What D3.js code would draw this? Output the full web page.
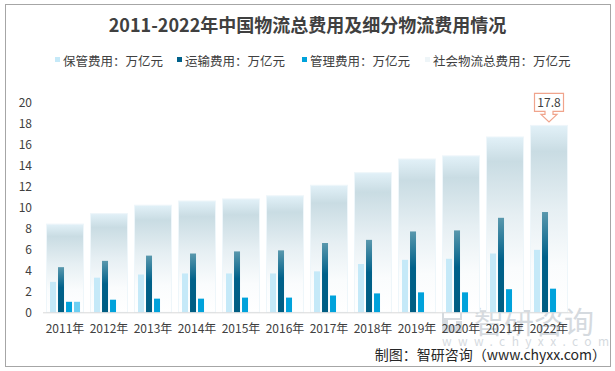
<!DOCTYPE html>
<html>
<head>
<meta charset="utf-8">
<script src="https://cdn.jsdelivr.net/npm/d3@7"></script>
<style>
  body { margin: 0; background: #fff; }
  svg { display: block; font-family: "Microsoft YaHei", "Noto Sans CJK SC", "Noto Sans", sans-serif; }
</style>
</head>
<body>
<svg id="chart"></svg>
<script>
// data (万亿元)
var years     = ['2011年','2012年','2013年','2014年','2015年','2016年','2017年','2018年','2019年','2020年','2021年','2022年'];
var total     = [8.4, 9.4, 10.2, 10.6, 10.8, 11.1, 12.1, 13.3, 14.6, 14.9, 16.7, 17.8];
var storage   = [2.9, 3.3, 3.6, 3.7, 3.7, 3.7, 3.9, 4.6, 5.0, 5.1, 5.6, 5.95];
var transport = [4.3, 4.9, 5.4, 5.6, 5.8, 5.9, 6.6, 6.9, 7.7, 7.8, 9.0, 9.55];
var manage    = [1.0, 1.2, 1.3, 1.3, 1.4, 1.4, 1.6, 1.8, 1.9, 1.9, 2.2, 2.25];
var stray     = [1.0, null, null, null, null, null, null, null, null, null, null, null]; // stray bar in the 2011 group
var yTicks    = [0, 2, 4, 6, 8, 10, 12, 14, 16, 18, 20];
var legendNames = ['保管费用：万亿元','运输费用：万亿元','管理费用：万亿元','社会物流总费用：万亿元'];

var W = 615, H = 371;
var svg = d3.select('#chart').attr('width', W).attr('height', H);

var defs = svg.append('defs');
var gTot = defs.append('linearGradient').attr('id','gTot').attr('x1',0).attr('y1',0).attr('x2',0).attr('y2',1);
gTot.append('stop').attr('offset','0%').attr('stop-color','#e2f1f8');
gTot.append('stop').attr('offset','14%').attr('stop-color','#c9dce3');
gTot.append('stop').attr('offset','45%').attr('stop-color','#e6eff3');
gTot.append('stop').attr('offset','75%').attr('stop-color','#fafcfd');
gTot.append('stop').attr('offset','100%').attr('stop-color','#ffffff');
var gTr = defs.append('linearGradient').attr('id','gTr').attr('x1',0).attr('y1',0).attr('x2',0).attr('y2',1);
gTr.append('stop').attr('offset','0%').attr('stop-color','#5a98ad');
gTr.append('stop').attr('offset','45%').attr('stop-color','#00618a');
gTr.append('stop').attr('offset','100%').attr('stop-color','#005d82');

// outer frame
svg.append('rect').attr('x',5.5).attr('y',4.5).attr('width',605).attr('height',362)
  .attr('fill','none').attr('stroke','#a6a6a6').attr('stroke-width',1);

var x = d3.scaleBand().domain(years).range([43, 571]).paddingInner(0.16).paddingOuter(0.08);
var y = d3.scaleLinear().domain([0, 20]).range([312.3, 102.3]);
var keys = ['storage','transport','manage','stray'];
var xs = d3.scaleBand().domain(keys).range([3.5, 33.5]).paddingInner(0.25);

// title
svg.append('text').attr('x', 307.5).attr('y', 32).attr('text-anchor','middle')
  .attr('font-size', 18).attr('font-weight','bold').attr('fill','#404040')
  .text('2011-2022年中国物流总费用及细分物流费用情况');

// legend
var legColors = ['#c5e9f8','#00618a','#00a2db','#eef5f8'];
var legX = [55, 177, 302, 425];
var leg = svg.append('g').selectAll('g').data(legendNames).enter().append('g')
  .attr('transform', function(d,i){ return 'translate(' + legX[i] + ',57)'; });
leg.append('rect').attr('width',5).attr('height',5).attr('fill', function(d,i){ return legColors[i]; });
leg.append('text').attr('x', 8).attr('y', 8.5).attr('font-size', 12.5).attr('fill','#404040')
  .text(function(d){ return d; });

// y axis labels
svg.append('g').selectAll('text').data(yTicks).enter().append('text')
  .attr('x', 32).attr('y', function(d){ return y(d) + 4.5; })
  .attr('text-anchor','end').attr('font-size', 12).attr('fill','#404040')
  .text(function(d){ return d; });

// watermark
var wm = svg.append('g').attr('fill','#8a97a6').attr('opacity',0.35);
wm.append('path').attr('d','M442,311h20v9h-14v5h14v8h-20z M444,313v5h16v-5z');
wm.append('rect').attr('x',456).attr('y',321).attr('width',6).attr('height',10);
wm.append('text').attr('x', 474).attr('y', 333).attr('font-size', 30).text('智研咨询');
wm.append('text').attr('x', 442).attr('y', 346).attr('font-size', 12).attr('letter-spacing', 6.4).text('www.chyxx.com');

// total bars
svg.append('g').selectAll('rect').data(total).enter().append('rect')
  .attr('x', function(d,i){ return x(years[i]); })
  .attr('y', function(d){ return y(d); })
  .attr('width', x.bandwidth())
  .attr('height', function(d){ return y(0) - y(d); })
  .attr('fill','url(#gTot)')
  .attr('stroke','#eef6fa').attr('stroke-width',1);

var series = [
  {key:'storage', vals: storage, fill:'#c5e9f8'},
  {key:'transport', vals: transport, fill:'url(#gTr)'},
  {key:'manage', vals: manage, fill:'#00a2db'},
  {key:'stray', vals: stray, fill:'#6dcff2'}
];
series.forEach(function(s){
  var pts = s.vals.map(function(v,i){ return {year: years[i], v: v}; }).filter(function(p){ return p.v != null; });
  svg.append('g').selectAll('rect').data(pts).enter().append('rect')
    .attr('x', function(p){ return x(p.year) + xs(s.key); })
    .attr('y', function(p){ return y(p.v); })
    .attr('width', xs.bandwidth())
    .attr('height', function(p){ return y(0) - y(p.v); })
    .attr('fill', s.fill);
});

// x axis baseline + labels
svg.append('line').attr('x1', 43).attr('x2', 571).attr('y1', y(0) + 0.5).attr('y2', y(0) + 0.5)
  .attr('stroke','#d9d9d9');
svg.append('g').selectAll('text').data(years).enter().append('text')
  .attr('x', function(d){ return x(d) + x.bandwidth()/2; })
  .attr('y', 333).attr('text-anchor','middle').attr('font-size', 12).attr('fill','#404040')
  .text(function(d){ return d; });

// callout for last value
var last = years.length - 1;
var cx = x(years[last]) + x.bandwidth()/2, tip = y(total[last]) - 3.5;
svg.append('path')
  .attr('d', 'M' + (cx-14.5) + ',' + (tip-28.5) + 'H' + (cx+14.5) + 'V' + (tip-10.5) +
             'H' + (cx+4) + 'V' + (tip-7.5) + 'H' + (cx+8) + 'L' + cx + ',' + tip +
             'L' + (cx-8) + ',' + (tip-7.5) + 'H' + (cx-4) + 'V' + (tip-10.5) + 'H' + (cx-14.5) + 'Z')
  .attr('fill','#fff').attr('stroke','#f0a48c').attr('stroke-width',1.2);
svg.append('text').attr('x', cx).attr('y', tip - 15).attr('text-anchor','middle')
  .attr('font-size', 12).attr('fill','#404040').text(total[last]);

// source
svg.append('text').attr('x', 606).attr('y', 360).attr('text-anchor','end')
  .attr('font-size', 14).attr('fill','#262626').text('制图：智研咨询（www.chyxx.com）');
</script>
</body>
</html>
